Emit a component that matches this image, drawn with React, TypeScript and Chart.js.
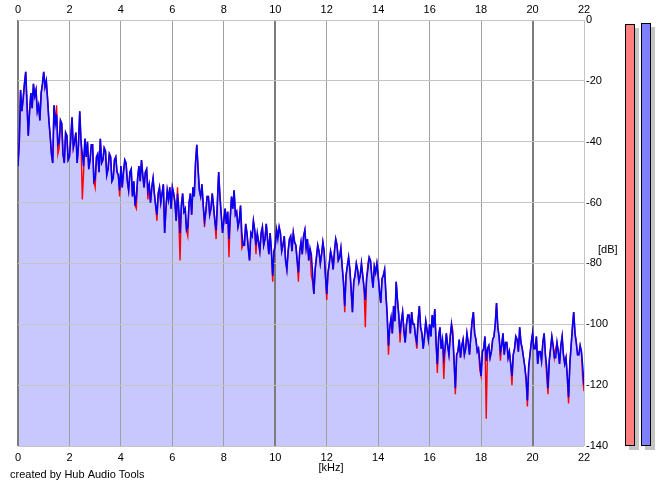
import React, { useEffect, useRef } from "react";
import { Chart, registerables } from "chart.js";

Chart.register(...registerables);

// Frequency bins in kHz (0.00 .. 22.00, 0.05 kHz bins)
const FREQ_STEP = 0.05;

// Channel 2 (blue) spectrum, dB — one row per kHz (20 bins each)
const blueDb: number[] = [
  -48, -40, -23, -30, -26, -21, -17, -27, -38, -30, -24, -29, -21, -25, -23, -30, -28, -33, -24, -21,
  -17, -22, -20, -26, -33, -38, -44, -47, -28, -34, -31, -41, -40, -33, -34, -44, -47, -37, -38, -46,
  -45, -39, -32, -42, -40, -37, -47, -41, -30, -40, -44, -48, -39, -45, -40, -49, -46, -41, -41, -53,
  -52, -45, -44, -50, -39, -47, -46, -42, -43, -51, -49, -44, -45, -53, -52, -46, -45, -50, -51, -56,
  -48, -55, -50, -46, -47, -53, -56, -50, -49, -58, -53, -61, -58, -52, -48, -53, -46, -51, -55, -50,
  -49, -56, -54, -60, -55, -52, -57, -61, -64, -57, -55, -60, -57, -54, -70, -62, -56, -59, -55, -62,
  -55, -57, -60, -66, -57, -62, -70, -61, -57, -63, -62, -69, -68, -60, -57, -64, -55, -58, -47, -41,
  -49, -56, -58, -54, -61, -66, -63, -58, -58, -64, -62, -57, -61, -66, -69, -60, -50, -58, -64, -70,
  -66, -62, -67, -63, -72, -65, -58, -62, -56, -64, -63, -68, -66, -61, -70, -74, -74, -67, -70, -75,
  -79, -70, -71, -66, -69, -74, -70, -73, -76, -70, -68, -74, -72, -67, -72, -77, -70, -76, -84, -76,
  -74, -69, -72, -68, -70, -76, -74, -71, -79, -82, -76, -72, -71, -76, -70, -73, -74, -79, -83, -76,
  -73, -77, -71, -69, -75, -72, -79, -75, -77, -83, -90, -82, -78, -74, -76, -80, -77, -73, -76, -84,
  -90, -83, -80, -76, -78, -82, -76, -72, -74, -79, -78, -75, -81, -86, -94, -84, -81, -78, -82, -88,
  -96, -86, -84, -80, -82, -86, -84, -80, -84, -88, -92, -85, -82, -78, -79, -84, -88, -81, -83, -80,
  -84, -89, -93, -85, -84, -82, -90, -97, -107, -101, -98, -103, -94, -99, -86, -92, -97, -103, -99, -96,
  -102, -106, -100, -97, -97, -103, -96, -100, -100, -104, -106, -99, -94, -101, -103, -108, -104, -99, -102, -105,
  -100, -104, -97, -101, -95, -106, -113, -104, -101, -108, -105, -111, -108, -103, -107, -110, -104, -100, -104, -112,
  -121, -110, -109, -105, -111, -107, -105, -110, -108, -103, -106, -110, -104, -99, -96, -103, -105, -109, -108, -112,
  -117, -109, -108, -104, -112, -108, -107, -111, -109, -105, -104, -100, -93, -101, -104, -109, -107, -103, -110, -106,
  -106, -111, -109, -113, -117, -110, -108, -104, -105, -109, -101, -106, -108, -111, -114, -118, -125, -114, -110, -106,
  -103, -108, -108, -104, -113, -109, -109, -112, -106, -103, -110, -114, -121, -112, -108, -104, -107, -111, -111, -106,
  -109, -113, -107, -104, -110, -113, -111, -117, -124, -113, -107, -101, -96, -103, -106, -110, -110, -107, -109, -114,
  -120,
];

// Channel 1 (red) spectrum, dB — one row per kHz (20 bins each)
const redDb: number[] = [
  -48, -40, -23, -30, -26, -21, -17, -29, -38, -30, -24, -29, -21, -25, -23, -30, -28, -33, -24, -21,
  -17, -22, -20, -26, -33, -38, -44, -47, -28, -34, -28, -44, -42, -33, -34, -44, -47, -37, -38, -46,
  -45, -39, -32, -42, -40, -37, -47, -41, -30, -40, -59, -50, -39, -45, -40, -49, -46, -41, -41, -53,
  -55, -45, -44, -50, -39, -47, -46, -42, -43, -51, -49, -44, -45, -53, -52, -46, -45, -50, -51, -58,
  -48, -55, -50, -46, -47, -53, -56, -50, -49, -58, -53, -61, -62, -52, -48, -53, -46, -51, -55, -50,
  -49, -59, -54, -60, -55, -52, -57, -61, -66, -57, -55, -60, -57, -54, -70, -62, -56, -59, -55, -62,
  -55, -57, -60, -66, -55, -66, -79, -61, -57, -63, -62, -69, -71, -60, -57, -64, -55, -58, -47, -41,
  -49, -56, -58, -54, -61, -68, -63, -58, -58, -64, -62, -57, -61, -66, -72, -60, -50, -58, -64, -70,
  -66, -62, -67, -63, -78, -65, -58, -62, -56, -64, -63, -68, -66, -61, -75, -74, -74, -67, -70, -75,
  -79, -70, -71, -66, -69, -77, -70, -73, -76, -70, -68, -74, -72, -67, -72, -77, -70, -76, -86, -76,
  -74, -69, -70, -68, -70, -76, -74, -71, -79, -82, -76, -72, -71, -76, -70, -73, -74, -79, -86, -76,
  -73, -77, -71, -69, -75, -72, -79, -75, -84, -86, -90, -82, -78, -74, -76, -80, -77, -73, -76, -84,
  -92, -83, -80, -76, -78, -82, -76, -72, -74, -79, -78, -75, -81, -86, -96, -84, -81, -78, -82, -90,
  -96, -86, -84, -80, -82, -86, -84, -80, -84, -88, -101, -85, -80, -78, -79, -84, -88, -81, -83, -80,
  -84, -89, -93, -85, -84, -82, -90, -97, -110, -101, -98, -103, -94, -99, -86, -92, -97, -106, -99, -96,
  -102, -106, -100, -97, -97, -103, -96, -100, -100, -104, -108, -99, -94, -101, -103, -108, -104, -99, -102, -105,
  -100, -104, -97, -101, -95, -106, -116, -104, -101, -108, -105, -118, -108, -103, -107, -110, -104, -100, -102, -112,
  -123, -110, -109, -105, -111, -107, -105, -110, -108, -103, -106, -110, -104, -99, -96, -103, -105, -109, -108, -115,
  -117, -109, -108, -104, -131, -108, -107, -111, -109, -105, -104, -100, -93, -101, -104, -112, -107, -103, -110, -106,
  -106, -111, -109, -113, -120, -110, -108, -104, -105, -109, -101, -106, -108, -111, -114, -118, -127, -114, -110, -106,
  -103, -108, -108, -104, -113, -109, -109, -112, -106, -103, -110, -117, -123, -112, -108, -104, -107, -111, -108, -106,
  -109, -113, -107, -104, -110, -113, -111, -117, -126, -113, -107, -101, -96, -103, -106, -110, -110, -107, -109, -118,
  -122,
];

// Axis ranges and ticks
const X_MIN = 0;
const X_MAX = 22;
const X_STEP = 2;
const Y_MIN = -140;
const Y_MAX = 0;
const Y_STEP = 20;

// Level meters (dB) for the two channels
const meterLevels: number[] = [-1.3, -1.0];
const meterColors: string[] = ["#ff8080", "#8080ff"];

const FONT = '"Liberation Sans", Arial, sans-serif';

const extrasPlugin = {
  id: "extras",
  afterDraw(chart: any) {
    const { ctx } = chart;
    const y = chart.scales.y;
    const base = y.getPixelForValue(Y_MIN);
    const meterX = [625, 641];
    const meterW = 10;
    ctx.save();
    meterLevels.forEach((lvl, i) => {
      const top = Math.round(y.getPixelForValue(lvl));
      const x = meterX[i];
      ctx.fillStyle = "#c4c4c4";
      ctx.fillRect(x + 4, top + 4, meterW, base - top);
      ctx.fillStyle = meterColors[i];
      ctx.fillRect(x, top, meterW, base - top);
      ctx.strokeStyle = "#000";
      ctx.lineWidth = 1;
      ctx.strokeRect(x + 0.5, top + 0.5, meterW - 1, base - top - 1);
    });
    ctx.font = `11px ${FONT}`;
    ctx.fillStyle = "#000";
    ctx.textBaseline = "middle";
    ctx.textAlign = "left";
    ctx.fillText("[dB]", 598, y.getPixelForValue(-75.5));
    ctx.fillText("created by Hub Audio Tools", 10, 475);
    ctx.textAlign = "center";
    ctx.fillText("[kHz]", 331, 468);
    ctx.restore();
  },
};

export default function App() {
  const canvasRef = useRef<HTMLCanvasElement | null>(null);

  useEffect(() => {
    const canvas = canvasRef.current;
    if (!canvas) return;
    const toPoints = (arr: number[]) =>
      arr.map((v, i) => ({ x: +(i * FREQ_STEP).toFixed(2), y: v }));

    const vGridColor = (c: any) => {
      const v = c.tick?.value;
      if (v === 0 || v === 10 || v === 20) return "#7c7c7c";
      if (v === 22) return "#c4c4c4";
      return "#a0a0a0";
    };
    const vGridWidth = (c: any) => {
      const v = c.tick?.value;
      return v === 0 || v === 10 || v === 20 ? 2 : 1;
    };

    const chart = new Chart(canvas, {
      type: "line",
      data: {
        datasets: [
          {
            label: "blue",
            data: toPoints(blueDb),
            borderColor: "#0000ff",
            borderWidth: 1.6,
            pointRadius: 0,
            tension: 0,
            fill: "start",
            backgroundColor: "rgb(200,200,255)",
            xAxisID: "x",
            yAxisID: "y",
          },
          {
            label: "red",
            data: toPoints(redDb),
            borderColor: "#ff0000",
            borderWidth: 1.4,
            pointRadius: 0,
            tension: 0,
            fill: false,
            xAxisID: "x",
            yAxisID: "y",
          },
        ],
      },
      options: {
        responsive: false,
        animation: false,
        layout: { padding: { left: 18, top: 0, right: 0, bottom: 0 } },
        plugins: {
          legend: { display: false },
          tooltip: { enabled: false },
          filler: { drawTime: "beforeDraw" },
        },
        scales: {
          x: {
            type: "linear",
            position: "bottom",
            min: X_MIN,
            max: X_MAX,
            ticks: { stepSize: X_STEP, padding: 5, color: "#000", font: { family: FONT, size: 11 }, maxRotation: 0 },
            grid: { color: vGridColor, lineWidth: vGridWidth, drawTicks: false },
            border: { display: false },
            afterFit: (s: any) => {
              s.height = 41;
            },
          },
          x2: {
            type: "linear",
            position: "top",
            min: X_MIN,
            max: X_MAX,
            ticks: { stepSize: X_STEP, padding: 3, color: "#000", font: { family: FONT, size: 11 }, maxRotation: 0 },
            grid: { display: false, drawTicks: false },
            border: { display: false },
            afterFit: (s: any) => {
              s.height = 20;
            },
          },
          y: {
            type: "linear",
            position: "right",
            min: Y_MIN,
            max: Y_MAX,
            ticks: { stepSize: Y_STEP, padding: 2, color: "#000", font: { family: FONT, size: 11 } },
            grid: { color: "#c4c4c4", lineWidth: 1, drawTicks: false },
            border: { display: false },
            afterFit: (s: any) => {
              s.width = 81;
            },
          },
        },
      },
      plugins: [extrasPlugin],
    });
    return () => chart.destroy();
  }, []);

  return (
    <div style={{ position: "fixed", left: 0, top: 0, width: 665, height: 487, background: "#fff" }}>
      <canvas ref={canvasRef} width={665} height={487} style={{ width: 665, height: 487, display: "block" }} />
    </div>
  );
}
